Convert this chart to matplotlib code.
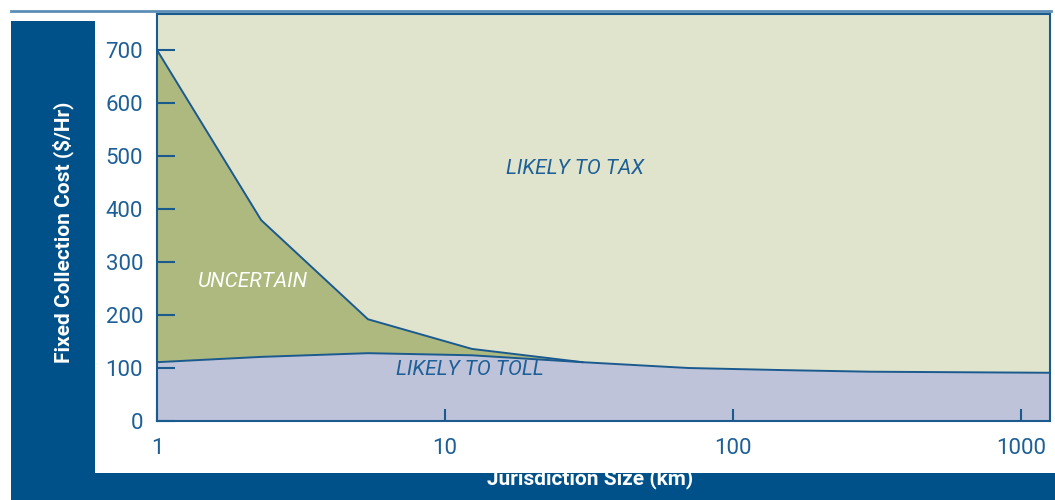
import matplotlib
matplotlib.use("Agg")
import matplotlib.pyplot as plt
from matplotlib.patches import Rectangle
import numpy as np

# data
toll_x = [1, 2.3, 5.4, 12.4, 30, 70, 150, 300, 1260]
toll_y = [111, 121, 128, 124, 111, 100, 96, 93, 91]
unc_x = [1, 2.3, 5.4, 12.4, 30]
unc_y = [700, 379, 192, 136, 111]
yticks = [0, 100, 200, 300, 400, 500, 600, 700]
xticks = [1, 10, 100, 1000]
xticklabels = ["1", "10", "100", "1000"]

FONT = ["Roboto", "DejaVu Sans"]
plt.rcParams['font.family'] = FONT

navy = "#00508a"
txt = "#1d5f96"
line_c = "#1b5a8e"
c_tax = "#e0e4cd"
c_unc = "#adb97e"
c_toll = "#bec3d9"

W, H = 1055, 500
fig = plt.figure(figsize=(W/100, H/100), dpi=100)
fig.patch.set_facecolor("white")

def fx(px): return px / W
def fy(py): return 1 - py / H

# navy frame parts
fig.patches.append(Rectangle((fx(11), 0), fx(84), fy(21), transform=fig.transFigure,
                             facecolor=navy, edgecolor="none", zorder=1))
fig.patches.append(Rectangle((fx(11), 0), 1 - fx(11), fy(473), transform=fig.transFigure,
                             facecolor=navy, edgecolor="none", zorder=1))
# white panel (covers top of x label)
fig.patches.append(Rectangle((fx(95), fy(473)), fx(1050 - 95), fy(13) - fy(473),
                             transform=fig.transFigure, facecolor="white", edgecolor="none", zorder=2))
# thin top line
fig.lines.append(plt.Line2D([fx(11), fx(1051)], [fy(10.7), fy(10.7)], transform=fig.transFigure,
                            color="#5b8db5", lw=2, zorder=2))

fig.text(fx(590), fy(479), "Jurisdiction Size (km)", color="white", fontsize=15,
         fontweight="bold", ha="center", va="center", zorder=1.5)
fig.text(fx(63), fy(232), "Fixed Collection Cost ($/Hr)", color="white", fontsize=15,
         fontweight="bold", ha="center", va="center", rotation=90, zorder=1.5)

ax = fig.add_axes([fx(157), fy(421), fx(1050 - 157), fy(14) - fy(421)], zorder=3)
ax.set_xscale("log")
ax.set_xlim(1, 1260)
ax.set_ylim(0, 768)
ax.set_facecolor(c_tax)

tx = np.array(toll_x, dtype=float)
ty = np.array(toll_y, dtype=float)
ax.fill_between(tx, 0, ty, color=c_toll, lw=0, zorder=1)
ux = np.array(unc_x, dtype=float)
uy = np.array(unc_y, dtype=float)
low = np.interp(np.log10(ux), np.log10(tx), ty)
ax.fill_between(ux, low, uy, color=c_unc, lw=0, zorder=1)
ax.plot(tx, ty, color=line_c, lw=1.4, zorder=2)
ax.plot(ux, uy, color=line_c, lw=1.4, zorder=2)

for s in ax.spines.values():
    s.set_color(line_c)
    s.set_linewidth(1.5)

ax.set_yticks(yticks)
ax.set_yticklabels([str(v) for v in yticks])
ax.set_xticks(xticks)
ax.set_xticklabels(xticklabels)
ax.xaxis.set_minor_locator(matplotlib.ticker.NullLocator())
ax.tick_params(axis="y", direction="in", length=13, width=1.5, color=line_c,
               labelcolor=txt, labelsize=16, pad=10)
ax.tick_params(axis="x", direction="in", length=9, width=1.5, color=line_c,
               labelcolor=txt, labelsize=16, pad=12)

ax.text(28.3, 477, "LIKELY TO TAX", color=txt, fontsize=15, style="italic",
        ha="center", va="center")
ax.text(2.15, 264, "UNCERTAIN", color="white", fontsize=15, style="italic",
        ha="center", va="center")
ax.text(12.2, 98, "LIKELY TO TOLL", color=txt, fontsize=15, style="italic",
        ha="center", va="center")

fig.savefig("out.png", dpi=100, facecolor="white")
